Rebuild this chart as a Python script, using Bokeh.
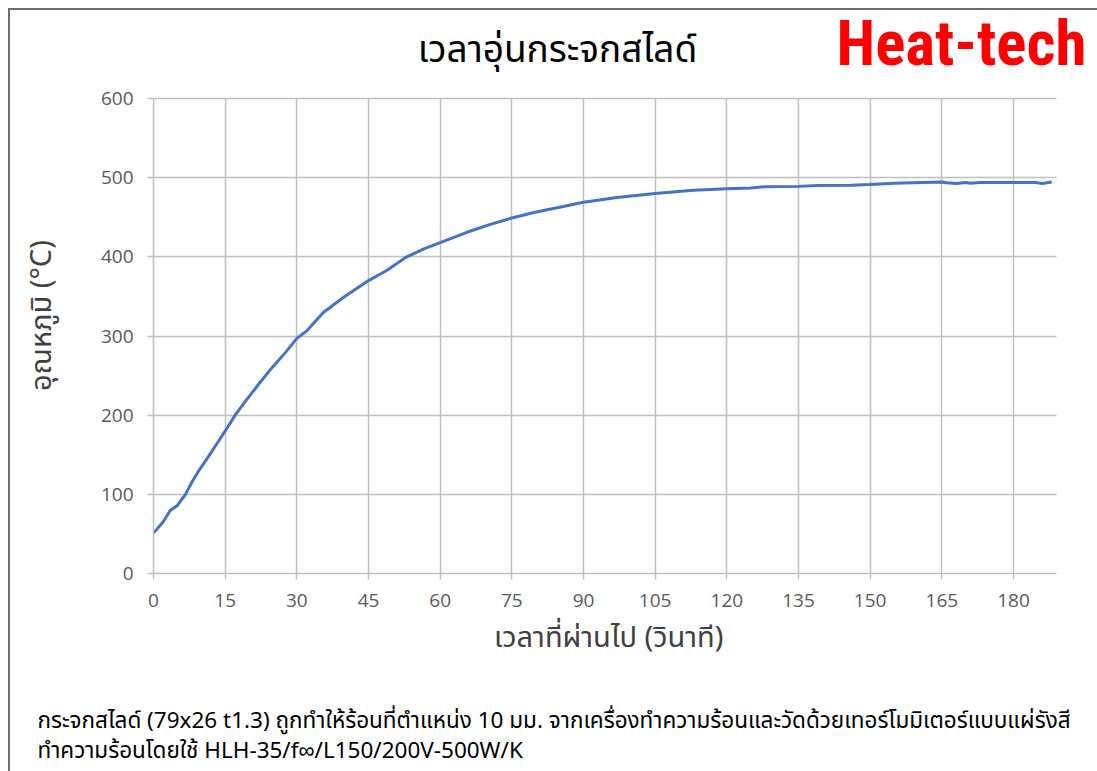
from bokeh.plotting import figure
from bokeh.models import Range1d, FixedTicker, Title, Grid, BoxAnnotation
from bokeh.embed import file_html
from bokeh.resources import INLINE
from bokeh.core.properties import value

# ---- data ----
time_s = [0, 2, 3.5, 5, 6.7, 8, 9.5, 12.3, 15, 17.2, 19.3, 22, 24.8, 27.6, 30, 32,
          35.6, 39.8, 45, 48.9, 52.7, 56.6, 60, 65.6, 70.5, 75, 79.6, 84.5, 90, 97,
          105, 113, 120, 125, 128, 135, 139, 146, 150, 155, 165, 166, 168, 170, 171,
          173, 180, 184.7, 186, 188]
temp_c = [51, 65, 79.5, 86, 100, 115, 130, 155, 180, 201, 218, 239, 260, 279, 297, 306,
          330, 349, 370, 383, 399, 410, 418, 431, 441, 449, 456, 462, 469, 475,
          480, 484, 486, 487, 488.5, 489, 490, 490.5, 491.5, 493, 494.5, 493.5, 492.5, 494, 493,
          494, 494, 494, 492.5, 494.5]
x_ticks = [0, 15, 30, 45, 60, 75, 90, 105, 120, 135, 150, 165, 180]
y_ticks = [0, 100, 200, 300, 400, 500, 600]

title_text = "เวลาอุ่นกระจกสไลด์"
x_title = "เวลาที่ผ่านไป (วินาที)"
y_title = "อุณหภูมิ (°C)"
logo_text = "Heat-tech"
caption_1 = "กระจกสไลด์ (79x26 t1.3) ถูกทำให้ร้อนที่ตำแหน่ง 10 มม. จากเครื่องทำความร้อนและวัดด้วยเทอร์โมมิเตอร์แบบแผ่รังสี"
caption_2 = "ทำความร้อนโดยใช้ HLH-35/f∞/L150/200V-500W/K"

THAI = "Noto Sans Thai, Noto Sans, sans-serif"
LOGO_FONT = "Roboto Condensed, DejaVu Sans Condensed"
GRID = "#bfbfbf"
NBSP = "\u00a0"
X_MAX, Y_MAX = 189, 600          # extent of the chart area
W, H = 1097, 771
FL, FR, FT, FB = 153, 1086, 12, 573   # frame (extended up/right to hold title & logo)
PX_X = 903 / X_MAX                # pixels per second
PX_Y = 475 / Y_MAX                # pixels per degree
X_END = (FR - FL) / PX_X
Y_END = (FB - FT) / PX_Y


def dx(px):
    return (px - FL) / PX_X


def dy(py):
    return (FB - py) / PX_Y


p = figure(width=W, height=H, output_backend="svg", toolbar_location=None,
           x_range=Range1d(0, X_END), y_range=Range1d(0, Y_END),
           min_border_left=FL, min_border_right=W - FR,
           min_border_top=FT, min_border_bottom=H - FB)
p.styles = {"background": "linear-gradient(#6e6e6e,#6e6e6e) 8px 8px / 2px 100% no-repeat, "
                          "linear-gradient(#6e6e6e,#6e6e6e) 8px 8px / 100% 2px no-repeat, white"}
p.outline_line_color = None
p.background_fill_color = None
p.border_fill_color = None

for ax in (p.xaxis[0], p.yaxis[0]):
    ax.axis_line_color = GRID
    ax.axis_line_width = 1.5
    ax.major_tick_line_color = GRID
    ax.major_tick_line_width = 1.5
    ax.major_tick_out = 6
    ax.major_tick_in = 0
    ax.minor_tick_line_color = None
    ax.major_label_text_font = "Open Sans"
    ax.major_label_text_font_size = "19px"
    ax.major_label_text_color = "#595959"
    ax.axis_label_text_font = THAI
    ax.axis_label_text_font_style = "normal"
    ax.axis_label_text_font_size = "29px"
    ax.axis_label_text_color = "#404040"

p.xaxis.ticker = FixedTicker(ticks=x_ticks)
p.yaxis.ticker = FixedTicker(ticks=y_ticks)
p.xaxis.bounds = (0, X_MAX)
p.yaxis.bounds = (0, Y_MAX)
p.xaxis.major_label_standoff = 14
p.yaxis.major_label_standoff = 14
# trailing no-break spaces shift the centred axis titles to the reference positions
p.xaxis.axis_label = x_title + NBSP * 3
p.yaxis.axis_label = y_title + NBSP * 6
p.xaxis.axis_label_standoff = 6
p.yaxis.axis_label_standoff = 34

p.xgrid.ticker = FixedTicker(ticks=x_ticks)
p.ygrid.ticker = FixedTicker(ticks=y_ticks)
for g in (p.xgrid[0], p.ygrid[0]):
    g.grid_line_color = GRID
    g.grid_line_width = 1.5
if "cross_bounds" in Grid.properties():
    p.xgrid.cross_bounds = (0, Y_MAX)
    p.ygrid.cross_bounds = (0, X_MAX)
else:
    p.add_layout(BoxAnnotation(bottom=Y_MAX, fill_color="white", fill_alpha=1,
                               line_color=None, level="underlay"))
    p.add_layout(BoxAnnotation(left=X_MAX, fill_color="white", fill_alpha=1,
                               line_color=None, level="underlay"))

p.line(time_s, temp_c, line_color="#4472c4", line_width=3)

# chart title and logo (inside the extended frame, above the plotting area)
p.text(x=[dx(557)], y=[dy(50)], text=[title_text], text_font=value(THAI),
       text_font_size="37px", text_color="#000000", text_align="center",
       text_baseline="middle", level="overlay")
p.text(x=[dx(836)], y=[dy(42.5)], text=[logo_text],
       text_font=value(LOGO_FONT),
       text_font_style="bold", text_font_size="63px", text_color="#ff0000",
       text_align="left", text_baseline="alphabetic", level="overlay")

# spacer + two-line caption below the x axis
p.add_layout(Title(text=" ", text_font_size="10px", standoff=22), "below")
p.add_layout(Title(text=caption_1 + "\n" + caption_2, align="left", offset=37 - FL,
                   vertical_align="bottom", text_font=THAI, text_font_size="22.5px",
                   text_font_style="normal", text_line_height=0.875,
                   text_color="#000000", standoff=8), "below")

open("out.html", "w").write(file_html(p, INLINE))
